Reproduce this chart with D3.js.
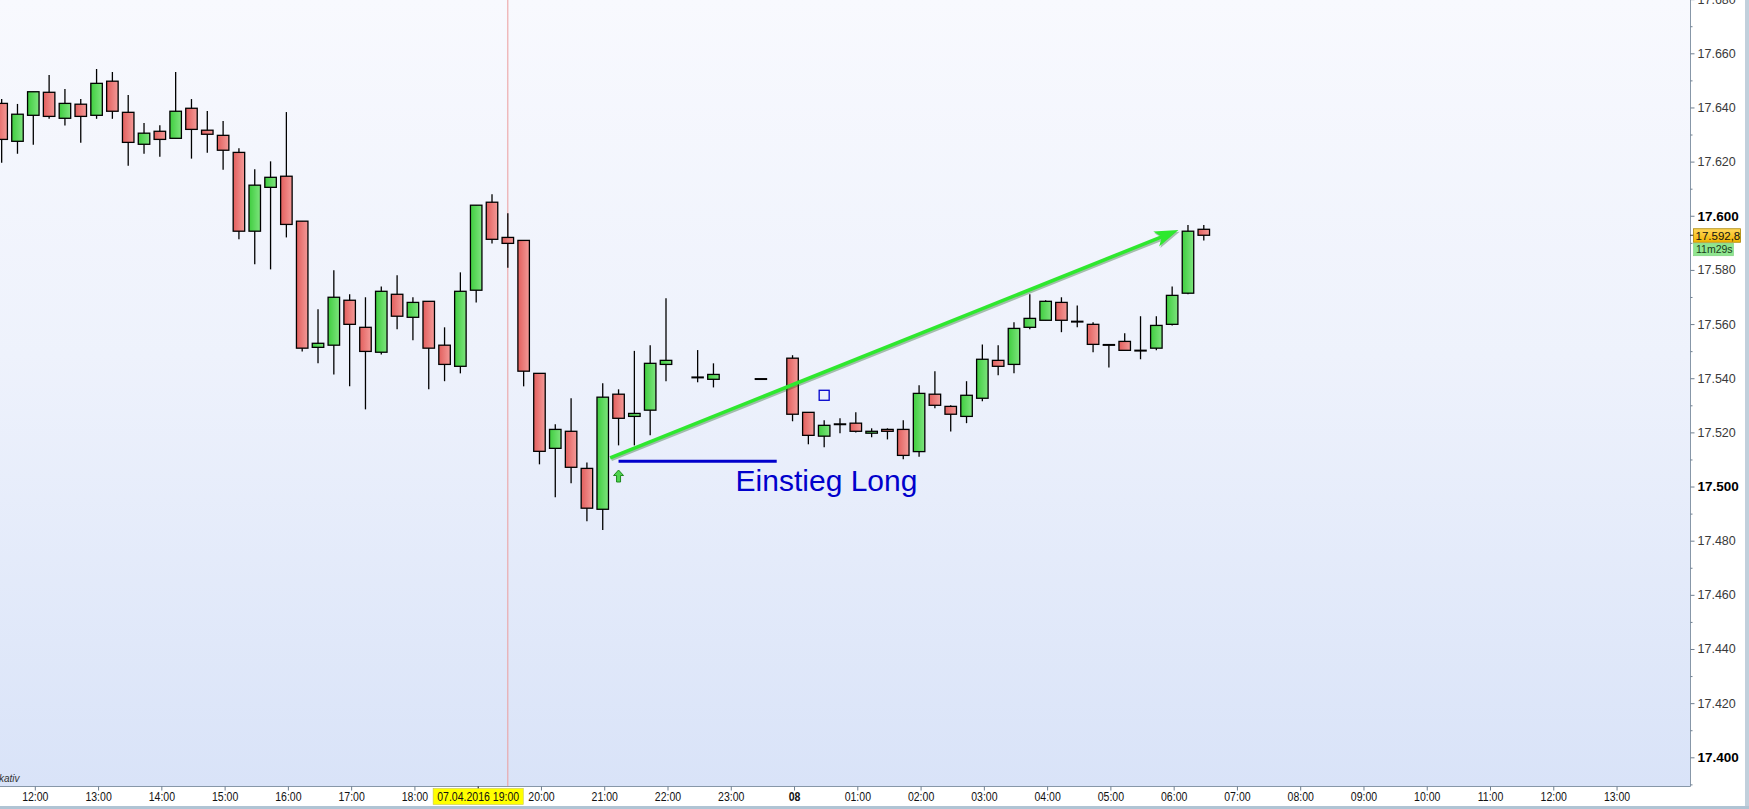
<!DOCTYPE html>
<html><head><meta charset="utf-8">
<script src="https://cdn.jsdelivr.net/npm/d3@7"></script>
<style>
html,body{margin:0;padding:0;background:#fff;overflow:hidden}
svg{display:block}
text{font-family:"Liberation Sans",Arial,sans-serif}
</style></head><body>
<svg id="chart" width="1749" height="809"></svg>
<script>
// ---------- DATA ----------
const candleTimes = [
 "2016-04-07T11:30","2016-04-07T11:45","2016-04-07T12:00","2016-04-07T12:15","2016-04-07T12:30","2016-04-07T12:45",
 "2016-04-07T13:00","2016-04-07T13:15","2016-04-07T13:30","2016-04-07T13:45","2016-04-07T14:00","2016-04-07T14:15",
 "2016-04-07T14:30","2016-04-07T14:45","2016-04-07T15:00","2016-04-07T15:15","2016-04-07T15:30","2016-04-07T15:45",
 "2016-04-07T16:00","2016-04-07T16:15","2016-04-07T16:30","2016-04-07T16:45","2016-04-07T17:00","2016-04-07T17:15",
 "2016-04-07T17:30","2016-04-07T17:45","2016-04-07T18:00","2016-04-07T18:15","2016-04-07T18:30","2016-04-07T18:45",
 "2016-04-07T19:00","2016-04-07T19:15","2016-04-07T19:30","2016-04-07T19:45","2016-04-07T20:00","2016-04-07T20:15",
 "2016-04-07T20:30","2016-04-07T20:45","2016-04-07T21:00","2016-04-07T21:15","2016-04-07T21:30","2016-04-07T21:45",
 "2016-04-07T22:00","2016-04-07T22:30","2016-04-07T22:45","2016-04-07T23:30",
 "2016-04-08T00:00","2016-04-08T00:15","2016-04-08T00:30","2016-04-08T00:45","2016-04-08T01:00","2016-04-08T01:15",
 "2016-04-08T01:30","2016-04-08T01:45","2016-04-08T02:00","2016-04-08T02:15","2016-04-08T02:30","2016-04-08T02:45",
 "2016-04-08T03:00","2016-04-08T03:15","2016-04-08T03:30","2016-04-08T03:45","2016-04-08T04:00","2016-04-08T04:15",
 "2016-04-08T04:30","2016-04-08T04:45","2016-04-08T05:00","2016-04-08T05:15","2016-04-08T05:30","2016-04-08T05:45",
 "2016-04-08T06:00","2016-04-08T06:15","2016-04-08T06:30"
];
const opens = [
 17641.5,17627.5,17637.1,17645.6,17636.0,17641.2,17637.1,17649.7,17638.2,17626.4,17631.2,17628.6,
 17639.7,17631.6,17629.7,17623.4,17594.3,17610.5,17614.6,17598.0,17551.4,17552.2,17568.8,17558.8,
 17549.6,17571.0,17562.5,17568.4,17552.2,17544.4,17572.5,17605.0,17592.0,17590.9,17541.8,17514.1,
 17520.4,17506.7,17491.6,17534.1,17525.9,17528.2,17545.1,17540.3,17539.6,17539.7,
 17547.4,17527.4,17518.6,17523.0,17523.4,17519.7,17521.1,17521.1,17512.9,17534.1,17529.6,17525.9,
 17532.6,17546.6,17545.1,17558.8,17561.4,17568.0,17560.9,17559.9,17552.3,17553.6,17550.2,17551.1,
 17559.9,17571.4,17595.0
];
const highs = [
 17643.1,17641.3,17645.8,17652.0,17646.8,17643.1,17654.2,17653.1,17644.6,17634.3,17633.4,17653.1,
 17643.1,17638.7,17635.0,17624.9,17617.2,17620.1,17638.3,17598.0,17565.5,17579.9,17571.0,17569.9,
 17573.9,17578.0,17569.9,17568.4,17558.8,17579.1,17603.9,17607.9,17600.9,17590.9,17541.8,17523.0,
 17532.6,17508.9,17538.1,17535.9,17550.1,17552.2,17569.5,17550.4,17545.5,17539.7,
 17548.5,17527.4,17524.5,17525.2,17527.4,17521.5,17521.5,17524.5,17537.4,17542.6,17530.0,17538.9,
 17552.5,17552.2,17560.7,17571.0,17568.8,17569.9,17566.9,17560.7,17552.3,17556.6,17562.9,17562.9,
 17573.9,17596.6,17596.6
];
const lows = [
 17619.6,17622.9,17626.2,17635.8,17633.3,17627.0,17635.8,17635.8,17618.5,17622.9,17621.8,17628.6,
 17621.1,17623.3,17617.0,17591.3,17582.1,17580.2,17592.0,17549.9,17545.5,17541.4,17537.0,17528.5,
 17548.8,17558.1,17554.0,17535.9,17538.9,17541.8,17568.0,17589.8,17580.8,17537.0,17508.2,17496.0,
 17501.2,17487.2,17483.9,17515.2,17515.2,17518.9,17538.9,17538.5,17536.6,17539.7,
 17524.1,17515.6,17514.5,17519.7,17520.0,17518.2,17517.4,17510.1,17511.0,17528.9,17520.3,17523.4,
 17531.5,17541.1,17541.8,17558.1,17561.4,17557.0,17558.8,17549.6,17544.0,17550.3,17547.0,17550.3,
 17559.5,17571.0,17590.9
];
const closes = [
 17628.2,17637.5,17645.8,17636.7,17641.5,17636.7,17648.9,17638.6,17627.1,17630.5,17628.2,17638.6,
 17631.9,17630.1,17624.2,17594.3,17611.3,17614.2,17596.8,17551.1,17552.9,17569.9,17559.9,17549.9,
 17572.1,17562.9,17568.0,17551.1,17545.1,17572.1,17603.9,17591.3,17589.8,17542.6,17513.0,17521.1,
 17507.1,17492.0,17533.0,17525.2,17527.0,17545.5,17546.6,17540.3,17541.4,17539.7,
 17526.7,17518.9,17522.6,17523.0,17520.4,17520.4,17520.4,17511.5,17534.4,17530.0,17526.7,17533.7,
 17547.0,17544.4,17558.4,17562.1,17568.4,17561.4,17560.9,17552.5,17552.3,17550.3,17550.2,17559.5,
 17570.6,17594.3,17592.8
];

const yTickValues = [17400,17420,17440,17460,17480,17500,17520,17540,17560,17580,17600,17620,17640,17660,17680];
const yMinorTickValues = [17390,17410,17430,17450,17470,17490,17510,17530,17550,17570,17590,17610,17630,17650,17670];

const xTickTimes = [
 "2016-04-07T12:00","2016-04-07T13:00","2016-04-07T14:00","2016-04-07T15:00","2016-04-07T16:00","2016-04-07T17:00",
 "2016-04-07T18:00","2016-04-07T19:00","2016-04-07T20:00","2016-04-07T21:00","2016-04-07T22:00","2016-04-07T23:00",
 "2016-04-08T00:00","2016-04-08T01:00","2016-04-08T02:00","2016-04-08T03:00","2016-04-08T04:00","2016-04-08T05:00",
 "2016-04-08T06:00","2016-04-08T07:00","2016-04-08T08:00","2016-04-08T09:00","2016-04-08T10:00","2016-04-08T11:00",
 "2016-04-08T12:00","2016-04-08T13:00"
];
const xTickLabels = [
 "12:00","13:00","14:00","15:00","16:00","17:00","18:00","07.04.2016 19:00","20:00","21:00","22:00","23:00",
 "08","01:00","02:00","03:00","04:00","05:00","06:00","07:00","08:00","09:00","10:00","11:00","12:00","13:00"
];
const xTickHighlight = "07.04.2016 19:00";
const xTickBold = "08";

const cursorTime = "2016-04-07T19:30";
const trendFrom = {time:"2016-04-07T21:07", price:17510.6};
const trendTo   = {time:"2016-04-08T06:06", price:17594.7};
const entryLine = {from:"2016-04-07T21:15", to:"2016-04-07T23:45", price:17509.3};
const entryLabel = {time:"2016-04-07T23:06", price:17498.3, text:"Einstieg Long"};
const signalArrow = {time:"2016-04-07T21:15", price:17506.1};
const orderBox = {time:"2016-04-08T00:30", price:17533.7};
const lastPriceText = "17.592,8";
const countdownText = "11m29s";
const footerText = "kativ";

// ---------- CHART ----------
const W = 1749, H = 809;
const plotRight = 1690, plotBottom = 786;
const parse = d3.utcParse("%Y-%m-%dT%H:%M");
const svg = d3.select("#chart");

const x = d3.scaleUtc()
  .domain([parse("2016-04-07T12:00"), parse("2016-04-08T12:00")])
  .range([33.3, 33.3 + 24*63.27]);
const y = d3.scaleLinear().domain([17400, 17660]).range([757.3, 53.3]);
const tickShift = 1.5;

const candles = candleTimes.map((t,i)=>({t:parse(t),o:opens[i],h:highs[i],l:lows[i],c:closes[i]}));

const defs = svg.append("defs");
const bg = defs.append("linearGradient").attr("id","bg").attr("x1",0).attr("y1",0).attr("x2",0).attr("y2",1);
bg.append("stop").attr("offset","0%").attr("stop-color","#f8f9fe");
bg.append("stop").attr("offset","45%").attr("stop-color","#eef2fc");
bg.append("stop").attr("offset","100%").attr("stop-color","#d9e3f8");
const gUp = defs.append("linearGradient").attr("id","up").attr("x1",0).attr("x2",1).attr("y1",0).attr("y2",0);
gUp.append("stop").attr("offset","0%").attr("stop-color","#3fcd3f");
gUp.append("stop").attr("offset","100%").attr("stop-color","#7ee47e");
const gDn = defs.append("linearGradient").attr("id","dn").attr("x1",0).attr("x2",1).attr("y1",0).attr("y2",0);
gDn.append("stop").attr("offset","0%").attr("stop-color","#e25f5d");
gDn.append("stop").attr("offset","100%").attr("stop-color","#f49a98");
const gLbl = defs.append("linearGradient").attr("id","lbl").attr("x1",0).attr("x2",0).attr("y1",0).attr("y2",1);
gLbl.append("stop").attr("offset","0%").attr("stop-color","#ffd75a");
gLbl.append("stop").attr("offset","100%").attr("stop-color","#f2b400");
defs.append("clipPath").attr("id","clip").append("rect")
  .attr("x",0).attr("y",0).attr("width",plotRight).attr("height",plotBottom);

svg.append("rect").attr("width",W).attr("height",H).attr("fill","#ffffff");
svg.append("rect").attr("x",0).attr("y",0).attr("width",plotRight).attr("height",plotBottom).attr("fill","url(#bg)");

const plot = svg.append("g").attr("clip-path","url(#clip)");

// cursor line
plot.append("line")
  .attr("x1",x(parse(cursorTime))).attr("x2",x(parse(cursorTime)))
  .attr("y1",0).attr("y2",plotBottom)
  .attr("stroke","#ec9c9c").attr("stroke-width",1);

// candles
const bw = 11.5;
const cg = plot.append("g");
cg.selectAll("line.wick").data(candles).join("line")
  .attr("x1",d=>x(d.t)).attr("x2",d=>x(d.t))
  .attr("y1",d=>y(d.h)).attr("y2",d=>y(d.l))
  .attr("stroke","#000").attr("stroke-width",1.3);
cg.selectAll("rect.body").data(candles.filter(d=>Math.abs(d.o-d.c)>=0.5)).join("rect")
  .attr("x",d=>x(d.t)-bw/2)
  .attr("y",d=>y(Math.max(d.o,d.c)))
  .attr("width",bw)
  .attr("height",d=>Math.max(1,Math.abs(y(d.o)-y(d.c))))
  .attr("fill",d=>d.c>=d.o?"url(#up)":"url(#dn)")
  .attr("stroke","#000").attr("stroke-width",1.3);
cg.selectAll("line.doji").data(candles.filter(d=>Math.abs(d.o-d.c)<0.5)).join("line")
  .attr("x1",d=>x(d.t)-bw/2-0.5).attr("x2",d=>x(d.t)+bw/2+0.5)
  .attr("y1",d=>y(d.c)).attr("y2",d=>y(d.c))
  .attr("stroke","#000").attr("stroke-width",2);

// entry line
plot.append("line")
  .attr("x1",x(parse(entryLine.from))).attr("x2",x(parse(entryLine.to)))
  .attr("y1",y(entryLine.price)).attr("y2",y(entryLine.price))
  .attr("stroke","#0000cc").attr("stroke-width",3);

// entry label
plot.append("text")
  .attr("x",x(parse(entryLabel.time))).attr("y",y(entryLabel.price))
  .attr("fill","#0000cc").attr("font-size",30).text(entryLabel.text);

// signal arrow (up)
{
  const sx = x(parse(signalArrow.time)), sy = y(signalArrow.price);
  const p = d3.path();
  p.moveTo(sx, sy); p.lineTo(sx+5, sy+5.5); p.lineTo(sx+2, sy+5.5); p.lineTo(sx+2, sy+12);
  p.lineTo(sx-2, sy+12); p.lineTo(sx-2, sy+5.5); p.lineTo(sx-5, sy+5.5); p.closePath();
  plot.append("path").attr("d",p.toString()).attr("fill","#4fd44f").attr("stroke","#1f8a1f").attr("stroke-width",1);
}

// order box
plot.append("rect")
  .attr("x",x(parse(orderBox.time))-5).attr("y",y(orderBox.price)-5)
  .attr("width",10).attr("height",10)
  .attr("fill","none").attr("stroke","#0000cc").attr("stroke-width",1.3);

// trend arrow
{
  const x0 = x(parse(trendFrom.time)), y0 = y(trendFrom.price);
  const x1 = x(parse(trendTo.time)), y1 = y(trendTo.price);
  const ang = Math.atan2(y1-y0, x1-x0);
  const hl = 24, hw = 8;
  const bx = x1 - hl*Math.cos(ang), by = y1 - hl*Math.sin(ang);
  const px = -Math.sin(ang), py = Math.cos(ang);
  const head = [[x1,y1],[bx+hw*px,by+hw*py],[bx+hl*0.25*Math.cos(ang),by+hl*0.25*Math.sin(ang)],[bx-hw*px,by-hw*py]];
  const ag = plot.append("g");
  const drawArrow = (g,color,dx,dy)=>{
    g.append("line").attr("x1",x0+dx).attr("y1",y0+dy)
      .attr("x2",bx+hl*0.3*Math.cos(ang)+dx).attr("y2",by+hl*0.3*Math.sin(ang)+dy)
      .attr("stroke",color).attr("stroke-width",3.6).attr("stroke-linecap","butt");
    g.append("polygon").attr("points",head.map(q=>[q[0]+dx,q[1]+dy].join(",")).join(" ")).attr("fill",color);
  };
  drawArrow(ag,"rgba(20,90,20,0.35)",1.2,1.6);
  drawArrow(ag,"#2ee82e",0,0);
}

// plot borders
svg.append("line").attr("x1",plotRight+0.5).attr("x2",plotRight+0.5).attr("y1",0).attr("y2",plotBottom+0.5)
  .attr("stroke","#8797a8").attr("stroke-width",1);
svg.append("line").attr("x1",0).attr("x2",plotRight+0.5).attr("y1",plotBottom+0.5).attr("y2",plotBottom+0.5)
  .attr("stroke","#8797a8").attr("stroke-width",1);

// y axis
const de = d3.formatLocale({decimal:",",thousands:".",grouping:[3],currency:["","€"]});
const fmt = de.format(",.0f");
const yAxis = svg.append("g").attr("transform",`translate(${plotRight+0.5},0)`)
  .call(d3.axisRight(y).tickValues(yTickValues).tickSize(4).tickSizeOuter(0).tickPadding(3).tickFormat(fmt));
yAxis.select(".domain").remove();
yAxis.selectAll("line").attr("stroke","#6f7f90");
yAxis.selectAll("text")
  .attr("font-family",'"Liberation Sans",Arial,sans-serif')
  .attr("font-size",d=>d%100===0?13.5:12.5)
  .attr("font-weight",d=>d%100===0?"bold":"normal")
  .attr("fill",d=>d%100===0?"#000":"#3a3a3a");
const yMinor = svg.append("g").attr("transform",`translate(${plotRight+0.5},0)`)
  .call(d3.axisRight(y).tickValues(yMinorTickValues).tickSize(2).tickSizeOuter(0).tickFormat(""));
yMinor.select(".domain").remove();
yMinor.selectAll("line").attr("stroke","#6f7f90");

// last price label
{
  const last = candles[candles.length-1];
  const ly = y(last.c);
  svg.append("line").attr("x1",plotRight).attr("x2",plotRight+4).attr("y1",ly).attr("y2",ly).attr("stroke","#333");
  svg.append("rect").attr("x",plotRight+3.5).attr("y",ly-6.5).attr("width",47).attr("height",13.5)
    .attr("fill","url(#lbl)").attr("stroke","#a98400").attr("stroke-width",0.8);
  svg.append("text").attr("x",plotRight+5.5).attr("y",ly+0.3).attr("dy","0.35em")
    .attr("font-size",11.5).attr("fill","#111").text(lastPriceText);
  svg.append("rect").attr("x",plotRight+3.5).attr("y",ly+8).attr("width",40).attr("height",12.5)
    .attr("fill","#8fe58f").attr("stroke","#7ccf7c").attr("stroke-width",0.6);
  svg.append("text").attr("x",plotRight+6).attr("y",ly+14.3).attr("dy","0.35em")
    .attr("font-size",10.5).attr("fill","#1a3a1a").text(countdownText);
}

// x axis
const xTicks = xTickTimes.map(parse);
const xAxis = svg.append("g").attr("transform",`translate(${tickShift},${plotBottom+0.5})`)
  .call(d3.axisBottom(x).tickValues(xTicks).tickSize(4).tickSizeOuter(0)
    .tickFormat((d,i)=>xTickLabels[i]));
xAxis.select(".domain").remove();
xAxis.selectAll("line").attr("stroke","#6f7f90");
const xScaleX = 0.78;
xAxis.selectAll("text")
  .attr("y",10).attr("dy","0.36em")
  .attr("transform",`scale(${xScaleX},1)`)
  .attr("font-family",'"Liberation Sans",Arial,sans-serif')
  .attr("font-size",13.5)
  .attr("font-weight",(d,i)=>xTickLabels[i]===xTickBold?"bold":"normal")
  .attr("fill","#111");
xAxis.selectAll(".tick").each(function(d,i){
  if (xTickLabels[i]!==xTickHighlight) return;
  const g = d3.select(this);
  const t = g.select("text");
  const bb = t.node().getBBox();
  const w = bb.width*xScaleX;
  g.insert("rect","text").attr("x",-w/2-4).attr("y",2).attr("width",w+8).attr("height",16)
    .attr("fill","#ffff00").attr("stroke","#c8c850").attr("stroke-width",0.6);
  g.select("line").attr("stroke","#000");
});

// footer text
svg.append("text").attr("x",-1).attr("y",778).attr("dy","0.35em")
  .attr("font-size",10).attr("font-style","italic").attr("fill","#333").text(footerText);

// frame
svg.append("rect").attr("x",1745).attr("y",0).attr("width",4).attr("height",H).attr("fill","#c2d0dc");
svg.append("rect").attr("x",0).attr("y",806).attr("width",W).attr("height",3).attr("fill","#b0c4d4");
</script>
</body></html>
